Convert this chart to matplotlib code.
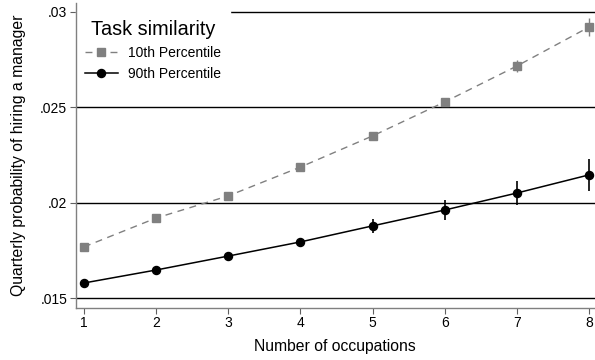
import matplotlib
matplotlib.use("Agg")
import matplotlib.pyplot as plt

occupations = [1, 2, 3, 4, 5, 6, 7, 8]
p10 = [0.01770, 0.01921, 0.02037, 0.02188, 0.02351, 0.02529, 0.02717, 0.02921]
p10_err = [0.00010, 0.00010, 0.00012, 0.00014, 0.00016, 0.00020, 0.00030, 0.00045]
p90 = [0.01581, 0.01649, 0.01722, 0.01796, 0.01880, 0.01963, 0.02052, 0.02147]
p90_err = [0.00008, 0.00010, 0.00012, 0.00020, 0.00037, 0.00052, 0.00065, 0.00084]
yticks = [0.015, 0.02, 0.025, 0.03]
yticklabels = [".015", ".02", ".025", ".03"]

plt.rcParams['font.family'] = ['Liberation Sans', 'DejaVu Sans']

W, H = 595, 360
L, R, B, T = 75.5, 595, 308, 3
fig = plt.figure(figsize=(W/100, H/100), dpi=100)
ax = fig.add_axes([L/W, 1-B/H, (R-L)/W, (B-T)/H])

for y in yticks:
    ax.axhline(y, color='black', lw=1.0, zorder=1)

grey = '#808080'
ax.errorbar(occupations, p10, yerr=p10_err, color=grey, ecolor=grey, elinewidth=1.0,
            capsize=0, zorder=3, fmt='none')
ax.plot(occupations, p10, color=grey, lw=1.0, ls=(0, (5, 4)), marker='s', ms=5.5,
        mfc=grey, mec=grey, label='10th Percentile', zorder=4)
ax.errorbar(occupations, p90, yerr=p90_err, color='black', ecolor='black', elinewidth=1.2,
            capsize=0, zorder=3, fmt='none')
ax.plot(occupations, p90, color='black', lw=1.1, marker='o', ms=5.8,
        mfc='black', mec='black', label='90th Percentile', zorder=4)

ax.set_xlim(0.882, 8.083)
ax.set_ylim(0.01450, 0.03047)
ax.set_xticks(occupations)
ax.set_xticklabels([str(v) for v in occupations])
ax.set_yticks(yticks)
ax.set_yticklabels(yticklabels)
ax.tick_params(axis='both', direction='out', length=4, width=0.8, color='#606060',
               labelsize=10, labelcolor='black', pad=2)
for s in ['top', 'right']:
    ax.spines[s].set_visible(False)
for s in ['left', 'bottom']:
    ax.spines[s].set_color(grey)
    ax.spines[s].set_linewidth(1.0)
    ax.spines[s].set_zorder(11)

ax.set_xlabel('Number of occupations', fontsize=11.3)
ax.set_ylabel('Quarterly probability of hiring a manager', fontsize=11.3)
ax.xaxis.set_label_coords(0.5, (B-339)/(B-T))
ax.yaxis.set_label_coords((26-L)/(R-L), 0.5)

leg = ax.legend(loc='upper left', title='Task similarity', fontsize=10,
                title_fontsize=14.3, frameon=True, fancybox=False,
                edgecolor='white', facecolor='white', framealpha=1,
                handlelength=2.37, borderaxespad=0.0, borderpad=0.65,
                labelspacing=0.5, handletextpad=0.72,
                bbox_to_anchor=(76/W, 1-11/H), bbox_transform=fig.transFigure)
leg.set_zorder(10)

fig.savefig('out.png', dpi=100)
